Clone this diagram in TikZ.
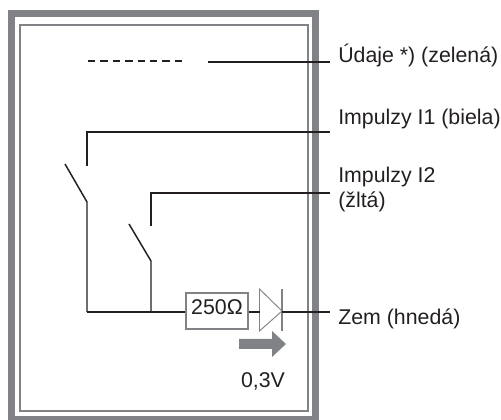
\documentclass[tikz,border=0pt]{standalone}
\usepackage{fontspec}
\setmainfont{Liberation Sans}
\usetikzlibrary{positioning}
\definecolor{framegray}{HTML}{808285}
\definecolor{wireblack}{HTML}{231F20}
\tikzset{
	wire/.style={color=wireblack,line width=1.1pt},
	lbl/.style={text=wireblack,font=\fontsize{16pt}{19pt}\selectfont,inner sep=0pt,anchor=base west},
}
\begin{document}
\begin{tikzpicture}[x=0.75pt,y=-0.75pt]
	\useasboundingbox (0,0) rectangle (501,420);
	% frames
	\draw[framegray,line width=5.25pt] (11.5,13.5) rectangle (315.5,419.5);
	\draw[framegray,line width=1.6pt] (20,25) rectangle (308,411);
	
	% labels
	\node[lbl] (data) at (338,63) {Údaje *) (zelená)};
	\node[lbl] (imp1) at (338,125) {Impulzy I1 (biela)};
	\node[lbl] (imp2) at (338,183) {Impulzy I2};
	\node[lbl] (imp2b) at (338,208) {(žltá)};
	\node[lbl] (zem) at (338,325) {Zem (hnedá)};
	
	% points
	\coordinate (dashL) at (88,61);
	\coordinate (dashR) at (185,61);
	\coordinate (dataL) at (208,62);
	\coordinate (dataR) at (330,62);
	\coordinate (imp1R) at (330,132);
	\coordinate (imp1C) at (87,166);
	\coordinate (imp2R) at (330,193);
	\coordinate (imp2C) at (151,226);
	\coordinate (blade1) at (65,164);
	\coordinate (hinge1) at (87,202);
	\coordinate (blade2) at (129,224);
	\coordinate (hinge2) at (151,261);
	\coordinate (corner) at (87,312);
	\coordinate (tee) at (151,312);
	\coordinate (zemR) at (330,312);
	
	% upper wires
	\draw[wire,line width=1pt,dash pattern=on 5.6pt off 3.7pt] (dashL) -- (dashR);
	\draw[wire] (dataL) -- (dataR);
	\draw[wire] (imp1C) |- (imp1R);
	\draw[wire] (imp2C) |- (imp2R);
	
	% switches
	\draw[wire] (blade1) -- (hinge1) -- (corner);
	\draw[wire] (blade2) -- (hinge2) -- (tee);
	
	% resistor and diode
	\node[draw=framegray,line width=1.3pt,minimum width=46.5pt,text height=16.5pt,text depth=10.5pt,inner sep=0pt,
		text=wireblack,font=\fontsize{16pt}{19pt}\selectfont] (res) at (217,311) {250Ω};
	\draw[framegray,line width=0.7pt] (259.5,289) -- (259.5,331) -- (282,311) -- cycle;
	\coordinate (diodeL) at (259.5,312);
	\coordinate (diodeR) at (282,312);
	\draw[framegray,line width=1.1pt] (282,289) -- (282,331);
	\draw[wire] (corner) -- (res.west |- corner);
	\draw[wire] (res.east |- corner) -- (diodeL);
	\draw[wire] (diodeR) -- (zemR);
	
	% voltage arrow
	\fill[framegray] (239,339) -- (272,339) -- (272,331) -- (286,344) -- (272,357) -- (272,349) -- (239,349) -- cycle;
	\node[lbl,anchor=base] (volt) at (263,388) {0,3V};
\end{tikzpicture}
\end{document}
